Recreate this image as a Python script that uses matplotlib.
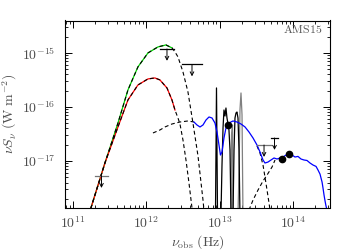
import numpy as np
import matplotlib
matplotlib.use('Agg')
import matplotlib.pyplot as plt
from matplotlib.ticker import LogLocator, FixedLocator, FuncFormatter, NullFormatter

plt.rcParams['mathtext.fontset'] = 'cm'
plt.rcParams['font.family'] = 'serif'
plt.rcParams['font.serif'] = ['DejaVu Serif']

# all values are log10(nu / Hz) and log10(nu S_nu / W m^-2)

# cold dust, total (green, dashed overlay)
green_nu = [11.215, 11.245, 11.436, 11.614, 11.750, 11.886, 12.023, 12.159, 12.268, 12.350]
green_s = [-18.0, -17.870, -17.037, -16.296, -15.685, -15.259, -15.0, -14.889, -14.852, -14.907]
green_tail_nu = [12.391, 12.432, 12.500, 12.568, 12.636, 12.705, 12.773, 12.786]
green_tail_s = [-14.981, -15.074, -15.352, -15.722, -16.296, -16.907, -17.722, -17.907]

# cold dust component (red, dashed overlay)
red_nu = [11.215, 11.245, 11.436, 11.614, 11.750, 11.886, 12.023, 12.118, 12.186, 12.282, 12.350, 12.391]
red_s = [-18.0, -17.870, -17.037, -16.370, -15.870, -15.593, -15.481, -15.463, -15.5, -15.648, -15.870, -16.056]
red_tail_nu = [12.432, 12.459, 12.500, 12.541, 12.582, 12.623, 12.636]
red_tail_s = [-16.204, -16.315, -16.611, -16.981, -17.407, -17.870, -18.0]

# warm dust power law (dashed)
warm_nu = [12.091, 12.186, 12.255, 12.350, 12.459, 12.568, 12.650]
warm_s = [-16.481, -16.426, -16.370, -16.315, -16.278, -16.259, -16.278]
warm_tail_nu = [13.509, 13.550, 13.591, 13.618, 13.646, 13.673, 13.687]
warm_tail_s = [-16.722, -16.852, -17.074, -17.296, -17.537, -17.778, -17.907]

# stellar component (dashed)
star_nu = [13.400, 13.455, 13.523, 13.591, 13.646, 13.714, 13.755]
star_s = [-17.907, -17.722, -17.537, -17.370, -17.259, -17.111, -16.981]

# total mid-IR / near-IR model (blue)
blue_nu = [12.650, 12.691, 12.732, 12.773, 12.814, 12.855, 12.896, 12.936, 12.964, 12.991,
           13.011, 13.032, 13.059, 13.086, 13.127, 13.182, 13.236, 13.291, 13.346, 13.400,
           13.455, 13.509, 13.550, 13.591, 13.618, 13.659, 13.700, 13.741, 13.782, 13.823,
           13.864, 13.905, 13.946, 13.987, 14.027, 14.068, 14.109, 14.150, 14.191, 14.232,
           14.273, 14.314, 14.341, 14.368, 14.396, 14.409, 14.423, 14.437, 14.450, 14.464]
blue_s = [-16.278, -16.333, -16.370, -16.333, -16.241, -16.185, -16.204, -16.296, -16.463, -16.704,
          -16.889, -16.833, -16.574, -16.389, -16.296, -16.259, -16.278, -16.315, -16.370, -16.463,
          -16.574, -16.704, -16.833, -16.981, -17.037, -17.019, -16.981, -16.944, -16.963, -16.944,
          -16.926, -16.889, -16.870, -16.889, -16.926, -16.915, -16.963, -16.981, -16.990, -17.037,
          -17.074, -17.100, -17.167, -17.241, -17.389, -17.5, -17.630, -17.741, -17.833, -17.907]

# IRS spectrum (black) and noisy ends (grey)
spec_nu = [12.943, 12.957, 12.971, 13.018, 13.032, 13.046, 13.059, 13.073, 13.086, 13.100,
           13.114, 13.127, 13.141, 13.155, 13.182, 13.196, 13.209, 13.223, 13.236, 13.250,
           13.264, 13.277]
spec_s = [-18.0, -15.648, -18.0, -18.0, -17.074, -16.389, -16.056, -16.167, -16.019, -16.204,
          -16.315, -16.426, -16.796, -18.0, -18.0, -16.796, -16.204, -16.111, -16.093, -16.204,
          -16.796, -18.0]
spec_grey_nu = [13.155, 13.162, 13.175, 13.182, 13.250, 13.264, 13.277, 13.291, 13.305, 13.318]
spec_grey_s = [-18.0, -16.519, -16.333, -18.0, -18.0, -17.167, -16.056, -15.741, -16.148, -18.0]

# photometric detections
det_nu = [13.114, 13.850, 13.946]
det_s = [-16.333, -16.963, -16.870]

# upper limits: centre, level, half band width
lim_nu = [11.389, 12.282, 12.623, 13.605, 13.748]
lim_s = [-17.278, -14.926, -15.213, -16.704, -16.574]
lim_hw = [0.089, 0.089, 0.130, 0.089, 0.048]
lim_col = ['0.45', 'k', 'k', '0.45', 'k']

x_ticks = [1e11, 1e12, 1e13, 1e14]
y_ticks = [1e-17, 1e-16, 1e-15]


def p(a):
    return 10 ** np.asarray(a)


fig = plt.figure(figsize=(3.5, 2.5), dpi=100)
ax = fig.add_axes([0.187, 0.17, 0.756, 0.748])
dash = (3.5, 2.5)

ax.plot(p(green_nu), p(green_s), color='#00d000', lw=0.9)
ax.plot(p(red_nu), p(red_s), color='red', lw=0.9)
ax.plot(p(green_nu + green_tail_nu), p(green_s + green_tail_s), 'k', lw=0.8, dashes=dash)
ax.plot(p(red_nu + red_tail_nu), p(red_s + red_tail_s), 'k', lw=0.8, dashes=dash)
ax.plot(p(warm_nu), p(warm_s), 'k', lw=0.8, dashes=dash)
ax.plot(p(warm_tail_nu), p(warm_tail_s), 'k', lw=0.8, dashes=dash)
ax.plot(p(star_nu), p(star_s), 'k', lw=0.8, dashes=dash)

ax.plot(p(spec_grey_nu), p(spec_grey_s), color='0.5', lw=0.9)
ax.plot(p(spec_nu), p(spec_s), 'k', lw=0.9)
ax.plot(p(blue_nu), p(blue_s), color='blue', lw=0.9)

ax.plot(p(det_nu), p(det_s), 'o', color='k', ms=4.5)

for nu, s, hw, c in zip(lim_nu, lim_s, lim_hw, lim_col):
    ax.plot([10 ** (nu - hw), 10 ** (nu + hw)], [10 ** s, 10 ** s], color=c, lw=0.9)
    ax.annotate('', xy=(10 ** nu, 10 ** (s - 0.22)), xytext=(10 ** nu, 10 ** s),
                arrowprops=dict(arrowstyle='->,head_length=0.25,head_width=0.13',
                                color='k', lw=0.7, shrinkA=0, shrinkB=0))

ax.set_xscale('log')
ax.set_yscale('log')
ax.set_xlim(10 ** 10.898, 10 ** 14.505)
ax.set_ylim(10 ** -17.86, 10 ** -14.40)

fmt = FuncFormatter(lambda v, pos: r'$10^{%d}$' % round(np.log10(v)))
ax.xaxis.set_major_locator(FixedLocator(x_ticks))
ax.yaxis.set_major_locator(FixedLocator(y_ticks))
ax.xaxis.set_minor_locator(LogLocator(base=10, subs=np.arange(2, 10), numticks=20))
ax.yaxis.set_minor_locator(LogLocator(base=10, subs=np.arange(2, 10), numticks=20))
ax.xaxis.set_major_formatter(fmt)
ax.yaxis.set_major_formatter(fmt)
ax.xaxis.set_minor_formatter(NullFormatter())
ax.yaxis.set_minor_formatter(NullFormatter())

ax.tick_params(which='both', direction='in', top=True, right=True, colors='k',
               labelcolor='0.3', labelsize=10)
ax.tick_params(which='major', length=5, width=0.7)
ax.tick_params(which='minor', length=2.5, width=0.6)
ax.tick_params(axis='x', pad=6)
ax.tick_params(axis='y', pad=7)
for sp in ax.spines.values():
    sp.set_linewidth(0.8)

ax.set_xlabel(r'$\nu_{\rm obs}\ (\rm Hz)$', fontsize=10, color='0.3', labelpad=1)
ax.set_ylabel(r'$\nu S_\nu\ (\rm W\ m^{-2})$', fontsize=10, color='0.3', labelpad=2)
ax.text(0.97, 0.95, r'$\rm AMS15$', transform=ax.transAxes, ha='right', va='center',
        fontsize=8.5, color='0.35')

fig.savefig('out.png', dpi=100)
